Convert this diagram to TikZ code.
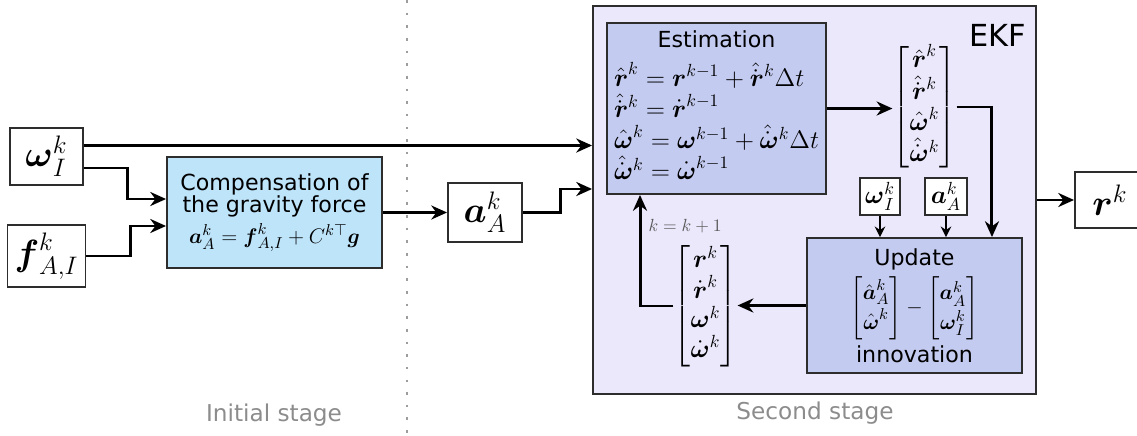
\documentclass[tikz,border=0pt,12pt]{standalone}
\usepackage{amsmath}
\usepackage{fontspec}
\setmainfont{DejaVu Sans}
\usetikzlibrary{arrows.meta,positioning}
\definecolor{ekfbg}{RGB}{236,232,252}
\definecolor{ekfstep}{RGB}{196,203,240}
\definecolor{gravbg}{RGB}{190,228,250}
\definecolor{boxline}{RGB}{45,45,45}
\definecolor{stagegray}{RGB}{140,140,140}
\definecolor{loopgray}{RGB}{90,90,90}
\newcommand{\bmv}[1]{\boldsymbol{#1}}
\newcommand{\ekfsz}{\large}

\begin{document}
\begin{tikzpicture}[
  x=0.02cm, y=-0.02cm,
  font=\fontsize{12.6}{14.5}\selectfont,
  flow/.style={-{Stealth[length=9pt,width=8pt]}, line width=1.7pt},
  feed/.style={-{Stealth[length=6pt,width=6pt]}, line width=1.4pt},
  sig/.style={draw=boxline, fill=white, line width=1.1pt},
  stepbox/.style={draw=boxline, fill=ekfstep, line width=1.1pt, minimum width=4.3cm},
  stagelabel/.style={text=stagegray, font=\fontsize{13.2}{15}\selectfont},
  vecnode/.style={inner sep=0pt, font=\ekfsz}
]
\useasboundingbox (0,0) rectangle (1137,436);

% stage separator
\draw[stagegray!85, line width=1.5pt, dash pattern=on 1.5pt off 5.7pt] (407,0) -- (407,436);
\node[stagelabel] (initlbl) at (274,415) {Initial stage};
\node[stagelabel] (seclbl) at (815,413) {Second stage};

% inputs and gravity compensation
\node[sig, minimum width=1.46cm, minimum height=1.14cm] (omega) at (46.5,156.5) {\LARGE $\bmv\omega_I^k$};
\node[sig, minimum width=1.46cm, minimum height=1.16cm] (facc) at (46.5,256) {\LARGE $\bmv f_{A,I}^k$};
\node[draw=boxline, fill=gravbg, line width=1.1pt, minimum width=4.3cm, minimum height=2.22cm, align=center] (comp) at (274.5,212.5)
  {Compensation of\\[-2pt]the gravity force\\[3pt]$\bmv a_A^k = \bmv f_{A,I}^k + C^{k\top}\bmv g$};
\node[sig, minimum width=1.48cm, minimum height=1.18cm] (acc) at (485,212.5) {\LARGE $\bmv a_A^k$};

% filter
\node[draw=boxline, fill=ekfbg, line width=1.1pt, minimum width=8.86cm, minimum height=7.76cm] (ekf) at (814.5,200) {};
\node[anchor=north east, inner sep=0pt, font=\Large] (ekflbl) at ([xshift=-0.22cm,yshift=-0.38cm]ekf.north east) {EKF};

\node[stepbox, minimum height=3.26cm] (est) at (716.5,108.5) {%
  \begin{tabular}{@{}l@{}}
  \multicolumn{1}{@{}c@{}}{Estimation}\\[4pt]
  \ekfsz $\hat{\bmv r}^k = \bmv r^{k-1} + \hat{\dot{\bmv r}}^k \Delta t$\\
  \ekfsz $\hat{\dot{\bmv r}}^k = \dot{\bmv r}^{k-1}$\\
  \ekfsz $\hat{\bmv\omega}^k = \bmv\omega^{k-1} + \hat{\dot{\bmv\omega}}^k \Delta t$\\
  \ekfsz $\hat{\dot{\bmv\omega}}^k = \dot{\bmv\omega}^{k-1}$
  \end{tabular}};
\node[vecnode] (hatvec) at (924.5,107)
  {$\renewcommand{\arraystretch}{0.84}\begin{bmatrix}\hat{\bmv r}^k\\ \hat{\dot{\bmv r}}^k\\ \hat{\bmv\omega}^k\\ \hat{\dot{\bmv\omega}}^k\end{bmatrix}$};
\node[sig, minimum width=0.8cm, minimum height=0.74cm, inner sep=1pt, font=\ekfsz] (omsmall) at (880,196.5) {$\bmv\omega_I^k$};
\node[sig, minimum width=0.84cm, minimum height=0.74cm, inner sep=1pt, font=\ekfsz] (accsmall) at (946,196.5) {$\bmv a_A^k$};
\node[stepbox, minimum height=2.7cm, align=center] (upd) at (914.5,305.5)
  {Update\\[3pt]
   $\renewcommand{\arraystretch}{1.15}\begin{bmatrix}\hat{\bmv a}_A^k\\ \hat{\bmv\omega}^k\end{bmatrix} - \begin{bmatrix}\bmv a_A^k\\ \bmv\omega_I^k\end{bmatrix}$\\[2pt]
   innovation};
\node[vecnode] (vec) at (705.5,306)
  {$\renewcommand{\arraystretch}{0.84}\begin{bmatrix}\bmv r^k\\ \dot{\bmv r}^k\\ \bmv\omega^k\\ \dot{\bmv\omega}^k\end{bmatrix}$};

\node[sig, minimum width=1.4cm, minimum height=1.12cm] (rout) at (1110,200) {\LARGE $\bmv r^k$};

% connections
\draw[flow] ([yshift=0.22cm]omega.east) -- ([yshift=0.22cm]omega.east -| ekf.west);
\draw[flow] ([yshift=-0.23cm]omega.east) -- ++(0.88cm,0) |- ([yshift=0.27cm]comp.west);
\draw[flow] (facc.east) -- ++(0.88cm,0) |- ([yshift=-0.27cm]comp.west);
\draw[flow] (comp.east) -- (acc.west);
\draw[flow] (acc.east) -- ++(0.76cm,0) |- ([yshift=0.22cm]ekf.west);

\draw[flow] (est.east) -- (est.east -| hatvec.west);
\draw[flow] (hatvec.east) -| ([xshift=1.55cm]upd.north);
\draw[feed] (omsmall.south) -- (omsmall.south |- upd.north);
\draw[feed] (accsmall.south) -- (accsmall.south |- upd.north);
\draw[flow] (upd.west) -- (upd.west -| vec.east);
\draw[flow] (vec.west) -| ([xshift=-1.53cm]est.south)
  node[pos=0.86, anchor=west, text=loopgray, font=\footnotesize] (loop) {$k=k+1$};
\draw[flow] (ekf.east) -- (rout.west);
\end{tikzpicture}
\end{document}
